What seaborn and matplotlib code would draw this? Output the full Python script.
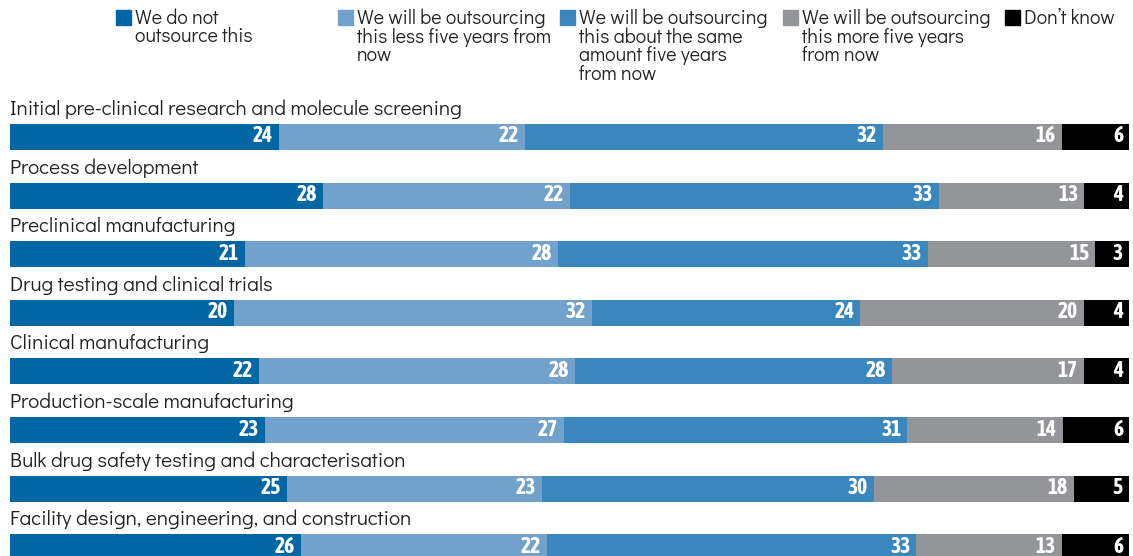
import numpy as np
import pandas as pd
import seaborn as sns
import matplotlib.pyplot as plt
from matplotlib.patches import Rectangle

categories = [
    "Initial pre-clinical research and molecule screening",
    "Process development",
    "Preclinical manufacturing",
    "Drug testing and clinical trials",
    "Clinical manufacturing",
    "Production-scale manufacturing",
    "Bulk drug safety testing and characterisation",
    "Facility design, engineering, and construction",
]
series = [
    "We do not\noutsource this",
    "We will be outsourcing\nthis less five years from\nnow",
    "We will be outsourcing\nthis about the same\namount five years\nfrom now",
    "We will be outsourcing\nthis more five years\nfrom now",
    "Don\u2019t know",
]
not_outsourced = [24, 28, 21, 20, 22, 23, 25, 26]
outsource_less = [22, 22, 28, 32, 28, 27, 23, 22]
outsource_same = [32, 33, 33, 24, 28, 31, 30, 33]
outsource_more = [16, 13, 15, 20, 17, 14, 18, 13]
dont_know = [6, 4, 3, 4, 4, 6, 5, 6]
colors = ["#0067a4", "#72a1cc", "#3a87bd", "#949598", "#000000"]

values = np.array([not_outsourced, outsource_less, outsource_same,
                   outsource_more, dont_know], dtype=float)
# each row is drawn as a full-width 100% bar
shares = values / values.sum(axis=0) * 100
cum = np.cumsum(shares, axis=0)

sns.set_style("white")
plt.rcParams["font.family"] = ["Didact Gothic", "DejaVu Sans"]
num_font = ["Asap Condensed", "DejaVu Sans"]

W, H = 1133, 556
fig = plt.figure(figsize=(W / 100, H / 100), dpi=100)
x0, x1 = 10, 1129
ax = fig.add_axes([x0 / W, 0, (x1 - x0) / W, 1])

pitch = 58.6
c0 = 137
bar_h = 26 / pitch

# stacked bars: draw cumulative totals from the outermost segment inwards
for k in range(len(series) - 1, -1, -1):
    df = pd.DataFrame({"category": categories, "total": cum[k]})
    sns.barplot(data=df, x="total", y="category", order=categories,
                orient="h", color=colors[k], saturation=1, width=bar_h,
                edgecolor="none", linewidth=0, ax=ax)

ax.set_xlim(0, 100)
ax.set_ylim((H - c0) / pitch, -c0 / pitch)
ax.set_axis_off()

px = 100 / (x1 - x0)
for i, cat in enumerate(categories):
    ax.text(0, i - 22 / pitch, cat, ha="left", va="baseline", fontsize=15,
            color="#222222")
    for k in range(len(series)):
        ax.text(cum[k][i] - 6 * px, i + 5.5 / pitch, f"{int(values[k][i])}",
                ha="right", va="baseline", color="white", fontsize=15.5,
                fontweight="bold", family=num_font)

# legend across the top
lx = [116, 338, 560, 783, 1005]
for k, name in enumerate(series):
    fig.patches.append(Rectangle((lx[k] / W, 1 - 25 / H), 15 / W, 15 / H,
                                 transform=fig.transFigure, color=colors[k]))
    fig.text((lx[k] + 19) / W, 1 - 8.5 / H, name, ha="left", va="top",
             fontsize=14.2, color="#222222", linespacing=0.98)

fig.savefig("out.png", dpi=100)
